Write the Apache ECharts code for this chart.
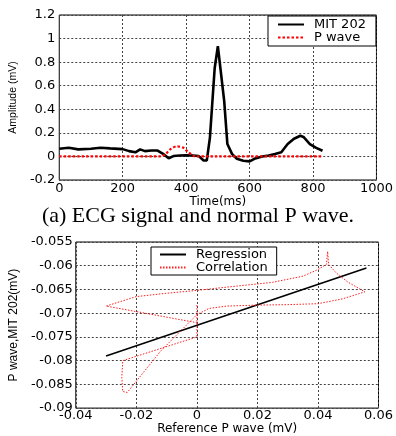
<!DOCTYPE html>
<html><head><meta charset="utf-8">
<script src="https://cdn.jsdelivr.net/npm/echarts@6/dist/echarts.min.js"></script>
<style>html,body{margin:0;padding:0;background:#fff}#c{width:396px;height:436px}</style>
</head><body><div id="c"></div>
<script>
// Top chart: ECG signal (time ms, amplitude mV)
const ecgTime = [0,30,60,100,130,160,200,220,240,255,270,290,310,330,345,360,380,400,420,440,455,465,475,490,500,505,520,530,545,560,580,600,615,640,660,680,700,720,740,760,770,790,810,830];
const ecgAmp  = [0.065,0.073,0.06,0.065,0.073,0.068,0.062,0.045,0.035,0.06,0.045,0.05,0.05,0.017,-0.015,0.003,0.008,0.01,0.008,0.003,-0.035,-0.035,0.16,0.75,0.935,0.92,0.47,0.105,0.02,-0.02,-0.037,-0.042,-0.02,0.0,0.008,0.02,0.035,0.105,0.15,0.175,0.165,0.105,0.073,0.048];
const pTime = [0,320,335,350,370,390,405,420,430,830];
const pAmp  = [0,0,0.02,0.06,0.085,0.075,0.04,0.01,0,0];
// Bottom chart: regression line and correlation loop
const regX = [-0.03, 0.056];
const regY = [-0.079, -0.0605];
const corX = [0,0,-0.0245,-0.0248,-0.0245,-0.023,-0.012,0,0.004,0.01,0.02,0.03,0.04,0.048,0.053,0.0555,0.05,0.046,0.0435,0.0432,0.0428,0.04,0.035,0.025,0.01,0,-0.01,-0.02,-0.03,0];
const corY = [-0.0683,-0.075,-0.080,-0.0835,-0.0865,-0.0867,-0.078,-0.0703,-0.069,-0.0685,-0.0683,-0.0682,-0.068,-0.067,-0.066,-0.0655,-0.0635,-0.0615,-0.0597,-0.057,-0.0597,-0.0608,-0.0622,-0.0635,-0.0645,-0.0652,-0.0658,-0.0665,-0.0685,-0.072];

const zip = (a,b) => a.map((v,i)=>[v,b[i]]);
const tickFont = '"DejaVu Sans", Verdana, sans-serif';
const nameFont = '"Liberation Sans", Arial, sans-serif';
const gridLine = {show:true, lineStyle:{color:'#444', type:[2,2], width:1}};
const lbl = {color:'#000', fontFamily:tickFont, fontSize:13};
const fmt = v => String(parseFloat(v.toFixed(3)));

const chart = echarts.init(document.getElementById('c'), null, {renderer:'canvas'});
chart.setOption({
  animation:false,
  backgroundColor:'#fff',
  grid:[
    {left:57, top:15, width:323, height:165, show:true, borderColor:'#000', borderWidth:1, containLabel:false},
    {left:56, top:242, width:324, height:170, show:true, borderColor:'#000', borderWidth:1, containLabel:false}
  ],
  xAxis:[
    {gridIndex:0, type:'value', min:0, max:1000, interval:200, axisLine:{show:false}, axisTick:{show:false},
     axisLabel:Object.assign({margin:2, formatter:fmt}, lbl), splitLine:gridLine,
     name:'Time(ms)', nameLocation:'middle', nameGap:10, nameTextStyle:{color:'#000', fontFamily:tickFont, fontSize:12}},
    {gridIndex:1, type:'value', min:-0.04, max:0.06, interval:0.02, axisLine:{show:false}, axisTick:{show:false},
     axisLabel:Object.assign({margin:1, formatter:fmt}, lbl), splitLine:gridLine,
     name:'Reference P wave (mV)', nameLocation:'middle', nameGap:11, nameTextStyle:{color:'#000', fontFamily:tickFont, fontSize:12}}
  ],
  yAxis:[
    {gridIndex:0, type:'value', min:-0.2, max:1.2, interval:0.2, axisLine:{show:false}, axisTick:{show:false},
     axisLabel:Object.assign({margin:4, formatter:fmt}, lbl), splitLine:gridLine,
     name:'Amplitude (mV)', nameLocation:'middle', nameGap:35, nameTextStyle:{color:'#000', fontFamily:nameFont, fontSize:10.5}},
    {gridIndex:1, type:'value', min:-0.09, max:-0.055, interval:0.005, axisLine:{show:false}, axisTick:{show:false},
     axisLabel:Object.assign({margin:3, formatter:fmt}, lbl), splitLine:gridLine,
     name:'P wave,MIT 202(mV)', nameLocation:'middle', nameGap:44, nameTextStyle:{color:'#000', fontFamily:nameFont, fontSize:12}}
  ],
  legend:[
    {data:['MIT 202','P wave'], left:268, top:16, orient:'vertical', itemGap:0, itemWidth:26, itemHeight:8,
     padding:[2,10,2,9], borderColor:'#000', borderWidth:1, backgroundColor:'#fff', borderRadius:0,
     itemStyle:{opacity:0},
     textStyle:{color:'#000', fontFamily:tickFont, fontSize:13, lineHeight:11, padding:[0,0,0,5]}},
    {data:['Regression','Correlation'], left:151, top:247, orient:'vertical', itemGap:0, itemWidth:26, itemHeight:8,
     padding:[1,9,1,8], borderColor:'#000', borderWidth:1, backgroundColor:'#fff', borderRadius:0,
     itemStyle:{opacity:0},
     textStyle:{color:'#000', fontFamily:tickFont, fontSize:13, lineHeight:11, padding:[0,0,0,5]}}
  ],
  graphic:[
    {type:'text', left:'center', top:205, style:{text:'(a) ECG signal and normal P wave.', fill:'#000', font:'22px "Liberation Serif", "Times New Roman", serif'}}
  ],
  series:[
    {name:'MIT 202', type:'line', xAxisIndex:0, yAxisIndex:0, data:zip(ecgTime, ecgAmp), showSymbol:false, symbol:'none',
     lineStyle:{color:'#000', width:2.6}, itemStyle:{color:'#000'}},
    {name:'P wave', type:'line', xAxisIndex:0, yAxisIndex:0, data:zip(pTime, pAmp), showSymbol:false, symbol:'none', smooth:0.3,
     lineStyle:{color:'#ff0000', width:2.2, type:[2.5,2]}, itemStyle:{color:'#ff0000'}},
    {name:'Regression', type:'line', xAxisIndex:1, yAxisIndex:1, data:zip(regX, regY), showSymbol:false, symbol:'none',
     lineStyle:{color:'#000', width:1.6}, itemStyle:{color:'#000'}},
    {name:'Correlation', type:'line', xAxisIndex:1, yAxisIndex:1, data:zip(corX, corY), showSymbol:false, symbol:'none',
     lineStyle:{color:'#ff2020', width:1, type:[1.5,1.5]}, itemStyle:{color:'#ff2020'}}
  ]
});
</script></body></html>
